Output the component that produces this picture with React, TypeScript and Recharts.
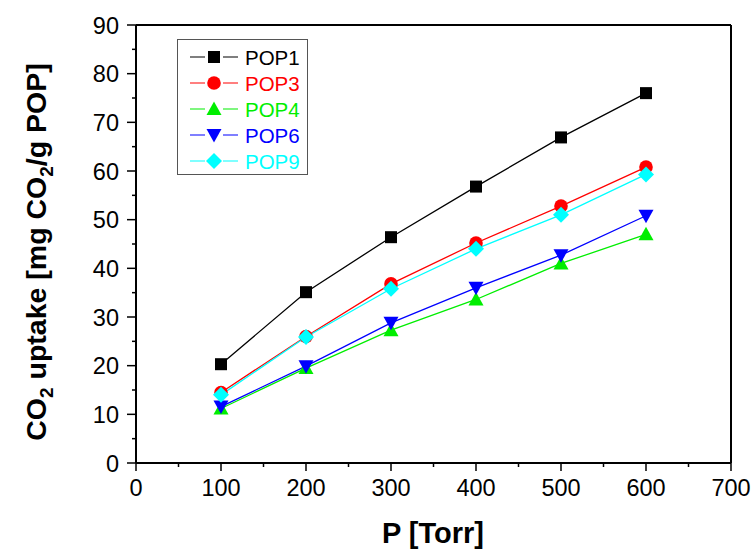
import React from 'react';
import { LineChart, Line, XAxis, YAxis, Legend, ReferenceLine } from 'recharts';

const pressures = [100, 200, 300, 400, 500, 600];
const pop1 = [20.3, 35.1, 46.4, 56.8, 66.9, 76.0];
const pop3 = [14.5, 26.0, 36.8, 45.2, 52.8, 60.8];
const pop4 = [11.2, 19.5, 27.3, 33.6, 41.0, 47.0];
const pop6 = [11.6, 19.9, 28.8, 36.0, 42.7, 50.8];
const pop9 = [14.0, 25.9, 35.8, 44.0, 51.0, 59.3];

const xTicks = [0, 50, 100, 150, 200, 250, 300, 350, 400, 450, 500, 550, 600, 650, 700];
const yTicks = [0, 5, 10, 15, 20, 25, 30, 35, 40, 45, 50, 55, 60, 65, 70, 75, 80, 85, 90];

const series = [
  { key: 'POP1', values: pop1, color: '#000000', shape: 'square' },
  { key: 'POP3', values: pop3, color: '#ff0000', shape: 'circle' },
  { key: 'POP4', values: pop4, color: '#00ee00', shape: 'up' },
  { key: 'POP6', values: pop6, color: '#0000ff', shape: 'down' },
  { key: 'POP9', values: pop9, color: '#00ffff', shape: 'diamond' },
];

const data = pressures.map((p, i) => {
  const row: any = { p };
  series.forEach((s) => { row[s.key] = s.values[i]; });
  return row;
});

const FONT = '"Liberation Sans", Arial, sans-serif';

const Marker = ({ cx, cy, shape, color }: any) => {
  if (shape === 'square') return <rect x={cx - 6} y={cy - 6} width={12} height={12} fill={color} />;
  if (shape === 'circle') return <circle cx={cx} cy={cy} r={6.8} fill={color} />;
  if (shape === 'up') return <polygon points={`${cx},${cy - 7.5} ${cx + 7.5},${cy + 6} ${cx - 7.5},${cy + 6}`} fill={color} />;
  if (shape === 'down') return <polygon points={`${cx},${cy + 7.5} ${cx + 7.5},${cy - 6} ${cx - 7.5},${cy - 6}`} fill={color} />;
  return <polygon points={`${cx},${cy - 8} ${cx + 8},${cy} ${cx},${cy + 8} ${cx - 8},${cy}`} fill={color} />;
};

const XTick = ({ x, y, payload }: any) => {
  const major = payload.value % 100 === 0;
  return (
    <g>
      <line x1={x} y1={y} x2={x} y2={y + (major ? 8 : 4)} stroke="#000" strokeWidth={1.5} />
      {major && (
        <text x={x} y={y + 33} textAnchor="middle" fontSize={23.5} fontFamily={FONT} fill="#000">
          {payload.value}
        </text>
      )}
    </g>
  );
};

const YTick = ({ x, y, payload }: any) => {
  const major = payload.value % 10 === 0;
  return (
    <g>
      <line x1={x} y1={y} x2={x - (major ? 9 : 4)} y2={y} stroke="#000" strokeWidth={1.5} />
      {major && (
        <text x={x - 17} y={y + 8.5} textAnchor="end" fontSize={23.5} fontFamily={FONT} fill="#000">
          {payload.value}
        </text>
      )}
    </g>
  );
};

const LegendBox = () => (
  <svg width={132} height={137} style={{ display: 'block' }}>
    <rect x={0.5} y={0.5} width={130} height={135} fill="#fff" stroke="#555" strokeWidth={1} />
    {series.map((s, i) => {
      const cy = 18 + i * 26;
      return (
        <g key={s.key}>
          <line x1={13} y1={cy} x2={61} y2={cy} stroke={s.color} strokeWidth={1.2} />
          <rect x={28} y={cy - 8} width={18} height={16} fill="#fff" />
          <Marker cx={37} cy={cy} shape={s.shape} color={s.color} />
          <text x={68} y={cy + 7.5} fontSize={20.5} fontFamily={FONT} fill={s.color}>{s.key}</text>
        </g>
      );
    })}
  </svg>
);

const YTitle = () => (
  <text
    transform="translate(46, 252) rotate(-90)"
    textAnchor="middle"
    fontSize={28.5}
    fontWeight="bold"
    fontFamily={FONT}
    fill="#000"
  >
    CO<tspan fontSize={19} dy={7}>2</tspan>
    <tspan dy={-7}> uptake [mg CO</tspan>
    <tspan fontSize={19} dy={7}>2</tspan>
    <tspan dy={-7}>/g POP]</tspan>
  </text>
);

export default function App() {
  return (
    <div style={{ position: 'absolute', left: 0, top: 0, width: 753, height: 549, background: '#fff' }}>
      <LineChart
        width={753}
        height={549}
        data={data}
        margin={{ top: 25, right: 22, bottom: 56, left: 76 }}
      >
        <XAxis
          dataKey="p"
          type="number"
          domain={[0, 700]}
          ticks={xTicks}
          interval={0}
          tickSize={0}
          tickMargin={0}
          tickLine={false}
          tick={<XTick />}
          height={30}
          axisLine={{ stroke: '#000', strokeWidth: 2 }}
        />
        <YAxis
          type="number"
          domain={[0, 90]}
          ticks={yTicks}
          interval={0}
          tickSize={0}
          tickMargin={0}
          tickLine={false}
          tick={<YTick />}
          width={60}
          axisLine={{ stroke: '#000', strokeWidth: 2 }}
        />
        <ReferenceLine y={90} stroke="#000" strokeWidth={2} ifOverflow="visible" />
        <ReferenceLine x={700} stroke="#000" strokeWidth={2} ifOverflow="visible" />
        <Legend
          layout="vertical"
          align="center"
          verticalAlign="middle"
          content={<LegendBox />}
          wrapperStyle={{ position: 'absolute', left: 177, top: 39, width: 132, height: 137 }}
        />
        {series.map((s) => (
          <Line
            key={s.key}
            dataKey={s.key}
            stroke={s.color}
            strokeWidth={1.3}
            isAnimationActive={false}
            dot={(props: any) => (
              <Marker key={`${s.key}-${props.index}`} cx={props.cx} cy={props.cy} shape={s.shape} color={s.color} />
            )}
            activeDot={false}
          />
        ))}
      </LineChart>
      <svg width={753} height={549} style={{ position: 'absolute', left: 0, top: 0, pointerEvents: 'none' }}>
        <YTitle />
        <text x={433} y={543} textAnchor="middle" fontSize={29} fontWeight="bold" fontFamily={FONT} fill="#000">
          P [Torr]
        </text>
      </svg>
    </div>
  );
}
